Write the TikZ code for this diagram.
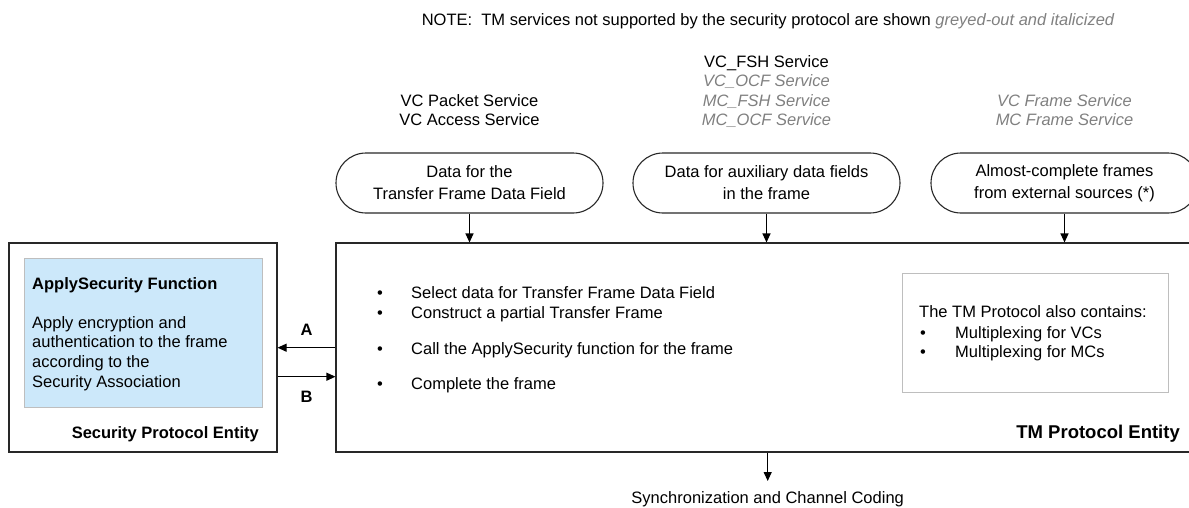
\documentclass[tikz,border=0pt]{standalone}
\usepackage{fontspec}
\setmainfont{Liberation Sans}
\usetikzlibrary{arrows.meta}
\definecolor{bluefill}{RGB}{204,232,250}
\definecolor{greytext}{RGB}{128,128,128}
\definecolor{lightborder}{RGB}{190,190,190}
\definecolor{boxline}{RGB}{40,40,40}
\begin{document}
\begin{tikzpicture}[x=1pt,y=-1pt,
  txt/.style={inner sep=0pt, font=\fontsize{16.5}{19.5}\selectfont},
  gtxt/.style={inner sep=0pt, text=greytext, font=\fontsize{16.5}{19.5}\selectfont\itshape},
  btxt/.style={inner sep=0pt, font=\fontsize{16.5}{19.5}\selectfont\bfseries},
  bigbtxt/.style={inner sep=0pt, font=\fontsize{18.5}{22}\selectfont\bfseries},
  pill/.style={draw=boxline, line width=1.1pt, rounded corners=30pt, minimum width=267pt, minimum height=60pt, inner sep=0pt, align=center, font=\fontsize{16.5}{22}\selectfont},
  entity/.style={draw=boxline, line width=1.1pt, inner sep=0pt},
  arr/.style={line width=1.1pt, -{Triangle[length=9pt,width=8pt]}}]
\path[use as bounding box, clip] (0,0) rectangle (1189,507);

% note
\node[txt, anchor=base west] (note) at (421.6,25.3) {NOTE:\ \ TM services not supported by the security protocol are shown \textcolor{greytext}{\itshape greyed-out and italicized}};

% service labels
\node[txt, anchor=base] (s1a) at (469.5,106) {VC Packet Service};
\node[txt, anchor=base] (s1b) at (469.5,125.3) {VC Access Service};
\node[txt, anchor=base] (s2a) at (766.5,67) {VC\_FSH Service};
\node[gtxt, anchor=base] (s2b) at (766.5,86.5) {VC\_OCF Service};
\node[gtxt, anchor=base] (s2c) at (766.5,106) {MC\_FSH Service};
\node[gtxt, anchor=base] (s2d) at (766.5,125.3) {MC\_OCF Service};
\node[gtxt, anchor=base] (s3a) at (1064.5,106) {VC Frame Service};
\node[gtxt, anchor=base] (s3b) at (1064.5,125.3) {MC Frame Service};

% input pills
\node[pill] (p1) at (469.5,183) {Data for the\\Transfer Frame Data Field};
\node[pill] (p2) at (766.5,183) {Data for auxiliary data fields\\in the frame};
\node[pill] (p3) at (1064.5,183) {Almost-complete frames\\from external sources (*)};

% entities
\node[entity, minimum width=864pt, minimum height=209pt] (tm) at (768,347.5) {};
\node[entity, minimum width=268pt, minimum height=209pt] (sec) at (143,347.5) {};
\node[draw=lightborder, fill=bluefill, line width=0.8pt, minimum width=238pt, minimum height=149pt, inner sep=0pt] (apply) at (143,332.5) {};
\node[draw=lightborder, line width=0.8pt, minimum width=266pt, minimum height=119pt, inner sep=0pt] (also) at (1035,332.5) {};

% security entity texts
\node[btxt, anchor=base west] (aptitle) at (32,289) {ApplySecurity Function};
\node[txt, anchor=base west] (ap1) at (32,328.7) {Apply encryption and};
\node[txt, anchor=base west] (ap2) at (32,347.9) {authentication to the frame};
\node[txt, anchor=base west] (ap3) at (32,367.5) {according to the};
\node[txt, anchor=base west] (ap4) at (32,387) {Security Association};
\node[btxt, anchor=base east] (secname) at (259,438.7) {Security Protocol Entity};

% TM entity texts
\node[txt, anchor=base] (b1) at (380,298.7) {\textbullet};
\node[txt, anchor=base west] (t1) at (411,298.7) {Select data for Transfer Frame Data Field};
\node[txt, anchor=base] (b2) at (380,318) {\textbullet};
\node[txt, anchor=base west] (t2) at (411,318) {Construct a partial Transfer Frame};
\node[txt, anchor=base] (b3) at (380,354.5) {\textbullet};
\node[txt, anchor=base west] (t3) at (411,354.5) {Call the ApplySecurity function for the frame};
\node[txt, anchor=base] (b4) at (380,389) {\textbullet};
\node[txt, anchor=base west] (t4) at (411,389) {Complete the frame};

\node[txt, anchor=base west] (al0) at (919,317.7) {The TM Protocol also contains:};
\node[txt, anchor=base] (ab1) at (923,338) {\textbullet};
\node[txt, anchor=base west] (al1) at (955,338) {Multiplexing for VCs};
\node[txt, anchor=base] (ab2) at (923,357.3) {\textbullet};
\node[txt, anchor=base west] (al2) at (955,357.3) {Multiplexing for MCs};
\node[bigbtxt, anchor=base east] (tmname) at (1180,438.3) {TM Protocol Entity};

% arrows from pills
\draw[arr] (p1.south) -- (p1.south |- tm.north);
\draw[arr] (p2.south) -- (p2.south |- tm.north);
\draw[arr] (p3.south) -- (p3.south |- tm.north);

% A and B
\coordinate (ya) at (0,347.7);
\coordinate (yb) at (0,376.7);
\draw[arr] (tm.west |- ya) -- (sec.east |- ya);
\draw[arr] (sec.east |- yb) -- (tm.west |- yb);
\node[btxt, anchor=base] (la) at (306.5,335) {A};
\node[btxt, anchor=base] (lb) at (306.5,402) {B};

% output
\node[txt, anchor=base] (sync) at (767.7,503) {Synchronization and Channel Coding};
\coordinate (syncend) at (767.7,481);
\draw[arr] (syncend |- tm.south) -- (syncend);
\end{tikzpicture}
\end{document}
